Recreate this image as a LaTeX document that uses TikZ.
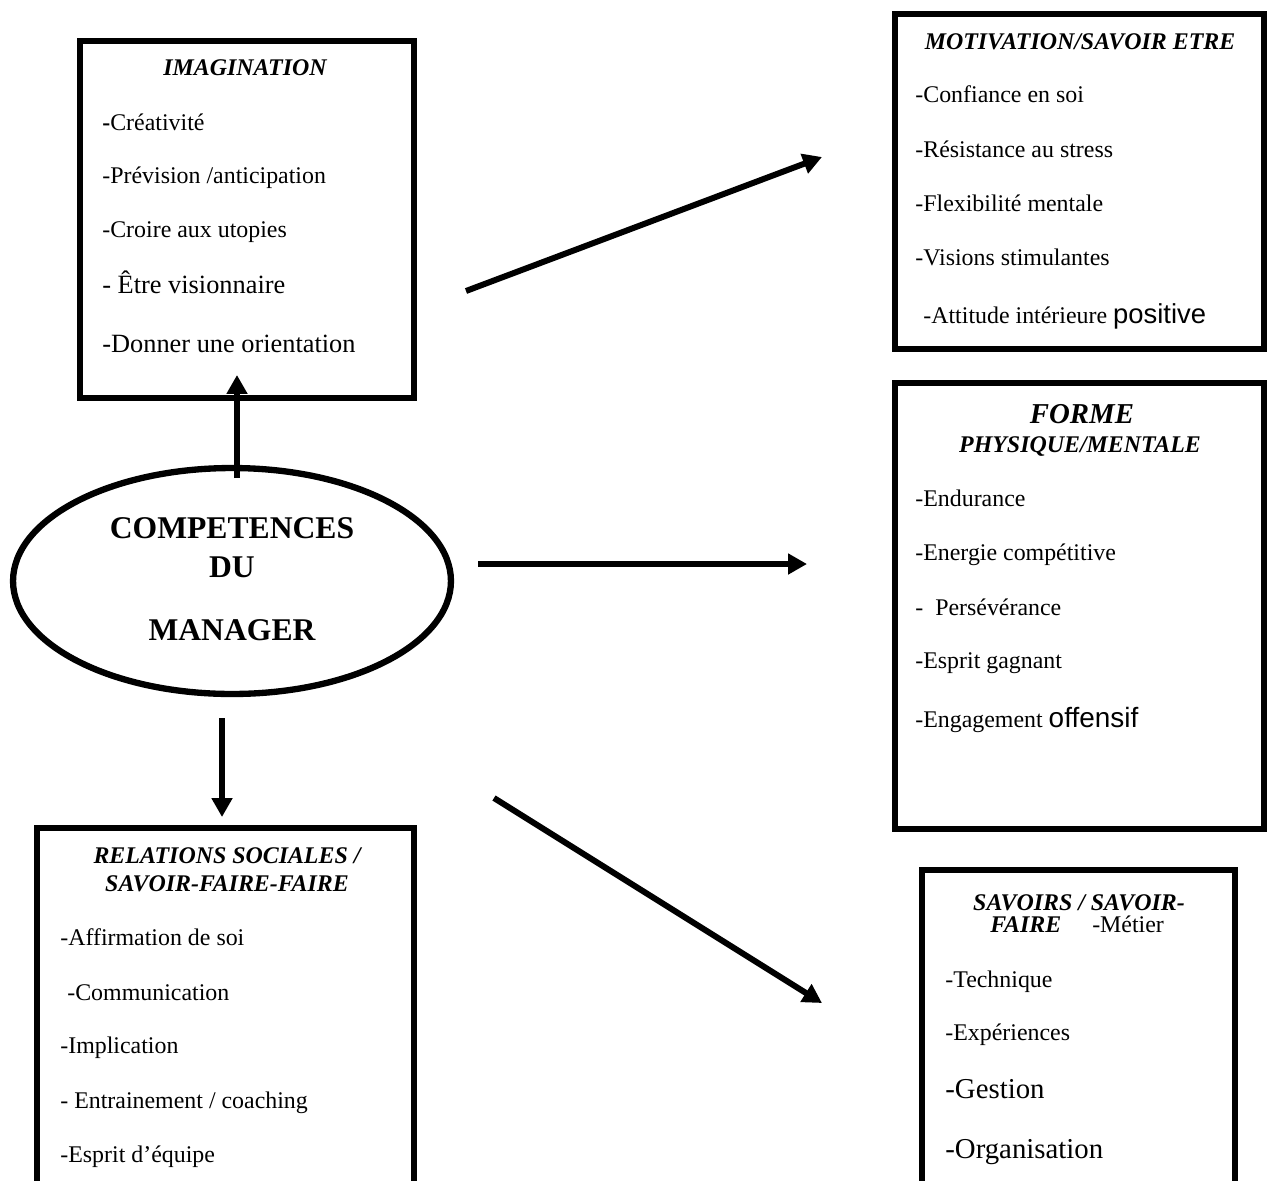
\documentclass[tikz,border=0pt]{standalone}
\usepackage{fontspec}
\setmainfont{Liberation Serif}
\newfontfamily\arialfont{Liberation Sans}
\usetikzlibrary{arrows.meta,shapes.geometric}

\tikzset{
  box/.style={draw, rectangle, line width=3.6pt, inner sep=0pt},
  core/.style={draw, ellipse, line width=3.6pt, inner sep=0pt,
               minimum width=8.76cm, minimum height=4.52cm},
  conn/.style={line width=3.4pt, -{Triangle[length=10.8pt,width=11.4pt]}},
  item/.style={anchor=base west, inner sep=0pt, font=\fontsize{13.6}{16}\selectfont},
  itemlarge/.style={anchor=base west, inner sep=0pt, font=\fontsize{15}{18}\selectfont},
  itemhuge/.style={anchor=base west, inner sep=0pt, font=\fontsize{16.4}{19}\selectfont},
  head/.style={anchor=base, inner sep=0pt, font=\fontsize{13.6}{16}\selectfont\bfseries\itshape},
  coretext/.style={anchor=base, inner sep=0pt, font=\fontsize{18}{21}\selectfont\bfseries},
}

\begin{document}
\begin{tikzpicture}[x=0.02cm, y=-0.02cm]
  \useasboundingbox (0,0) rectangle (1267,1180);
  \fill[white] (0,0) rectangle (1267,1180);
  \clip (0,0) rectangle (1267,1180);

  % central ellipse
  \node[core] (mgr) at (232,581) {};
  \node[coretext] (mgr1) at (232,538) {COMPETENCES};
  \node[coretext] (mgr2) at (232,577) {DU};
  \node[coretext] (mgr3) at (232,640) {MANAGER};

  % IMAGINATION
  \node[box, minimum width=6.68cm, minimum height=7.14cm] (imag) at (247,219.5) {};
  \node[head] (imagT) at (245,75) {IMAGINATION};
  \node[item] (imag1) at (102,130) {\textbf{-}Créativité};
  \node[item] (imag2) at (102,183) {-Prévision /anticipation};
  \node[item] (imag3) at (102,237) {-Croire aux utopies};
  \node[itemlarge] (imag4) at (102,293) {- Être visionnaire};
  \node[itemlarge] (imag5) at (102,352) {-Donner une orientation};

  % MOTIVATION / SAVOIR ETRE
  \node[box, minimum width=7.38cm, minimum height=6.7cm] (motiv) at (1079.5,181.5) {};
  \node[head] (motivT) at (1080,49) {MOTIVATION/SAVOIR ETRE};
  \node[item] (motiv1) at (915,102) {-Confiance en soi};
  \node[item] (motiv2) at (915,157) {-Résistance au stress};
  \node[item] (motiv3) at (915,211) {-Flexibilité mentale};
  \node[item] (motiv4) at (915,265) {-Visions stimulantes};
  \node[item] (motiv5) at (923,323) {-Attitude intérieure {\arialfont\fontsize{15.6}{18}\selectfont positive}};

  % FORME PHYSIQUE / MENTALE
  \node[box, minimum width=7.38cm, minimum height=8.92cm] (forme) at (1079.5,606) {};
  \node[head, font=\fontsize{16.4}{19}\selectfont\bfseries\itshape] (formeT) at (1082,423) {FORME};
  \node[head] (formeT2) at (1080,452) {PHYSIQUE/MENTALE};
  \node[item] (forme1) at (915,506) {-Endurance};
  \node[item] (forme2) at (915,560) {-Energie compétitive};
  \node[item] (forme3) at (915,615) {-~~Persévérance};
  \node[item] (forme4) at (915,668) {-Esprit gagnant};
  \node[item] (forme5) at (915,727) {-Engagement {\arialfont\fontsize{15.9}{18}\selectfont offensif}};

  % SAVOIRS / SAVOIR-FAIRE
  \node[box, minimum width=6.26cm, minimum height=7.2cm] (savoir) at (1078.5,1050) {};
  \node[head] (savoirT) at (1079,910) {SAVOIRS / SAVOIR-};
  \node[item] (savoirT2) at (990,932) {\textbf{\textit{FAIRE}}\hspace{1.3em}-Métier};
  \node[item] (savoir1) at (945,987) {-Technique};
  \node[item] (savoir2) at (945,1040) {-Expériences};
  \node[itemhuge] (savoir3) at (945,1098) {-Gestion};
  \node[itemhuge] (savoir4) at (945,1158) {-Organisation};

  % RELATIONS SOCIALES
  \node[box, minimum width=7.54cm, minimum height=8.04cm] (rel) at (225.5,1029) {};
  \node[head] (relT) at (227,863) {RELATIONS SOCIALES /};
  \node[head] (relT2) at (227,891) {SAVOIR-FAIRE-FAIRE};
  \node[item] (rel1) at (60,945) {-Affirmation de soi};
  \node[item] (rel2) at (67,1000) {-Communication};
  \node[item] (rel3) at (60,1053) {-Implication};
  \node[item] (rel4) at (60,1108) {- Entrainement / coaching};
  \node[item] (rel5) at (60,1162) {-Esprit d’équipe};

  % connector end points
  \coordinate (upS) at (237,478);
  \coordinate (upE) at (237,375);
  \coordinate (midS) at (478,564);
  \coordinate (midE) at (807,564);
  \coordinate (nrS) at (466,291);
  \coordinate (nrE) at (822,157);
  \coordinate (srS) at (494,798);
  \coordinate (srE) at (822,1003);
  \coordinate (dnS) at (222,718);
  \coordinate (dnE) at (222,817);

  \draw[conn] (upS) -- (upE);
  \draw[conn] (midS) -- (midE);
  \draw[conn] (nrS) -- (nrE);
  \draw[conn] (srS) -- (srE);
  \draw[conn] (dnS) -- (dnE);
\end{tikzpicture}
\end{document}
